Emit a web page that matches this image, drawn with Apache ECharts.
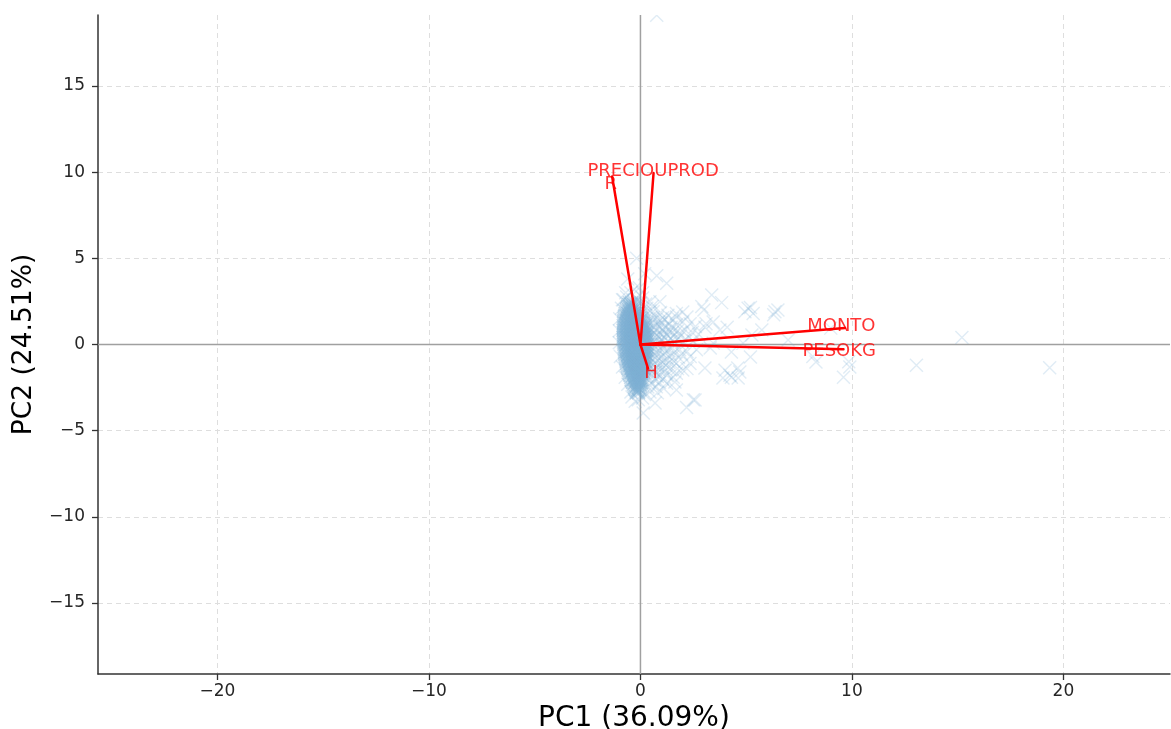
<!DOCTYPE html>
<html><head><meta charset="utf-8">
<style>html,body{margin:0;padding:0;background:#fff}#c{width:1171px;height:729px}canvas{filter:blur(.35px)}</style>
<script src="https://cdn.jsdelivr.net/npm/echarts@6/dist/echarts.min.js"></script>
</head><body><div id="c"></div>
<script>
const xTicks=[-20,-10,0,10,20];
const yTicks=[-15,-10,-5,0,5,10,15];
const xRange=[-25.65,25.04];
const yRange=[-19.12,19.12];
const loadingNames=['PRECIOUPROD','R','MONTO','PESOKG','H'];
const loadingTips=[[0.62,9.95],[-1.34,9.75],[9.67,0.96],[9.6,-0.28],[0.36,-1.4]];
const labelPositions=[[0.6,10.07],[-1.4,9.3],[9.5,1.07],[9.4,-0.37],[0.5,-1.65]];
// dense core: [y, x values]
const coreRows=[
[2.42,[-.52,-.42,-.3]],
[2.22,[-.6,-.5,-.38,-.24]],
[2.01,[-.66,-.56,-.44,-.32,-.18]],
[1.8,[-.72,-.6,-.47,-.35,-.22,-.1]],
[1.61,[-.76,-.64,-.51,-.38,-.25,-.12,0.0]],
[1.4,[-.78,-.66,-.53,-.41,-.28,-.15,-.03,.08]],
[1.22,[-.8,-.68,-.55,-.42,-.29,-.17,-.04,.08,.16]],
[1.0,[-.8,-.69,-.56,-.44,-.31,-.18,-.06,.07,.17,.25]],
[.81,[-.82,-.7,-.58,-.45,-.32,-.2,-.07,.05,.17,.28]],
[.6,[-.8,-.68,-.55,-.43,-.3,-.18,-.05,.08,.2,.31]],
[.41,[-.82,-.7,-.57,-.44,-.32,-.19,-.07,.06,.18,.3,.36]],
[.2,[-.8,-.67,-.55,-.42,-.29,-.17,-.04,.09,.21,.33]],
[.01,[-.78,-.66,-.53,-.4,-.28,-.15,-.02,.1,.22,.34]],
[-.2,[-.77,-.64,-.51,-.39,-.26,-.13,0,.12,.24,.35]],
[-.41,[-.75,-.62,-.5,-.37,-.24,-.12,.01,.13,.25,.34]],
[-.6,[-.73,-.6,-.47,-.35,-.22,-.09,.03,.15,.27,.33]],
[-.82,[-.7,-.57,-.45,-.32,-.19,-.07,.05,.17,.28]],
[-1.0,[-.67,-.54,-.42,-.29,-.16,-.04,.08,.2,.27]],
[-1.21,[-.63,-.5,-.38,-.25,-.13,0,.11,.22]],
[-1.4,[-.59,-.46,-.34,-.21,-.09,.03,.14,.2]],
[-1.61,[-.54,-.42,-.3,-.17,-.05,.06,.15]],
[-1.8,[-.49,-.37,-.25,-.13,-.01,.09]],
[-2.02,[-.43,-.32,-.2,-.08,.03,.08]],
[-2.2,[-.37,-.26,-.14,-.03,.05]],
[-2.41,[-.3,-.19,-.08,.01]],
[-2.6,[-.24,-.13,-.03]],
[-2.8,[-.19,-.09]],
[2.32,[-.56,-.44,-.33]],
[2.11,[-.62,-.5,-.37,-.24]],
[1.9,[-.68,-.53,-.4,-.26,-.14]],
[1.7,[-.74,-.58,-.44,-.3,-.16,-.04]],
[1.5,[-.77,-.6,-.46,-.33,-.2,-.07,.04]],
[1.31,[-.79,-.62,-.48,-.35,-.22,-.09,.03,.12]],
[1.1,[-.81,-.63,-.5,-.37,-.24,-.12,.01,.13,.22]],
[.91,[-.81,-.64,-.51,-.38,-.25,-.13,0,.11,.23]],
[.7,[-.81,-.62,-.49,-.36,-.24,-.11,.01,.14,.26]],
[.5,[-.81,-.63,-.5,-.38,-.25,-.13,0,.12,.24]],
[.3,[-.81,-.61,-.48,-.36,-.23,-.1,.03,.15,.27]],
[.1,[-.79,-.6,-.47,-.34,-.21,-.09,.04,.16,.28]],
[-.1,[-.77,-.58,-.45,-.32,-.2,-.07,.06,.18,.3]],
[-.31,[-.76,-.56,-.43,-.31,-.18,-.05,.07,.19,.3]],
[-.5,[-.74,-.54,-.41,-.28,-.15,-.03,.09,.21]],
[-.71,[-.71,-.51,-.38,-.26,-.13,0,.11,.23]],
[-.91,[-.68,-.48,-.35,-.23,-.1,.02,.14,.24]],
[-1.1,[-.65,-.44,-.31,-.19,-.06,.06,.17]],
[-1.3,[-.61,-.4,-.28,-.15,-.03,.09,.18]],
[-1.5,[-.56,-.36,-.24,-.11,.01,.11]],
[-1.7,[-.51,-.31,-.19,-.07,.04,.12]],
[-1.91,[-.46,-.26,-.14,-.02,.06]],
[-2.1,[-.4,-.2,-.08,.02]],
[-2.31,[-.33,-.13,-.02]],
[-2.5,[-.27,-.08]],
[-2.7,[-.2,-.11]]
];
// halo and outliers
const outerPoints=[
[19.35,-1.35],[15.2,.4],[13.05,-1.2],[9.9,-1.3],[9.6,-1.9],[9.85,-1],[8.3,-1.02],[8.15,-.7],[9,.95],[6.98,.26],
[6.36,1.9],[6.5,2],[6.3,1.72],[5.09,2.1],[5.2,2.15],[5.33,1.8],[4.94,1.9],[5.74,.84],[5.27,.55],[4.85,.08],
[5.2,-.72],[4.7,-1.6],[4.3,-1.9],[4.62,-1.95],[4.6,-1.37],[3.9,-1.95],[4,-1.5],[4.23,-1.79],[3.37,2.87],[3.84,2.43],
[3.05,1],[3.44,1.3],[3.1,1.2],[4.1,1],[3.76,.84],[3.44,.08],[3.3,-.2],[4.3,-.43],[3.05,-1.37],[2.9,2.2],
[3,2],[2.5,-3.2],[2.18,-3.65],[2.58,-3.22],[2,1.88],[2.2,1.6],[1.7,1.8],[1.7,1.6],[2.2,-1.4],[2,-1.48],
[2.34,-1.1],[1.7,-1.67],[1.7,-2.64],[1.63,-2.17],[1.24,-2.25],[.69,-3.4],[.13,-3.98],[-.25,-3.3],[.35,-2.47],[.77,3.99],
[1.24,3.55],[.92,2.48],[.45,2.48],[-.18,5],[-.6,3.8],[.2,4.1],[.77,19.1],[-.3,3.2],[-.7,3],[.1,3],
[-.85,2.6],[-.2,2.7],[.3,2.1],[.6,1.9],[.95,1.85],[1.3,1.7],[1.5,1.5],[.8,1.55],[.55,1.3],[1,1.25],
[1.35,1.2],[1.7,1.15],[2,1.3],[2.35,1.2],[2.6,1.05],[.7,1],[1.05,.9],[1.4,.85],[1.75,.8],[2.1,.85],
[2.45,.7],[2.75,.6],[.65,.7],[.95,.6],[1.25,.55],[1.55,.5],[1.9,.5],[2.3,.4],[.7,.4],[1,.3],
[1.3,.2],[1.6,.15],[2,.15],[2.5,.2],[.7,.15],[.95,.05],[1.2,-.1],[1.5,-.2],[1.85,-.3],[2.2,-.4],
[2.65,-.3],[.7,-.2],[.9,-.35],[1.15,-.5],[1.45,-.65],[1.8,-.75],[2.35,-.7],[.65,-.55],[.85,-.8],[1.1,-.95],
[1.35,-1.05],[1.7,-1.1],[.6,-.95],[.8,-1.2],[1.05,-1.35],[1.4,-1.45],[1.75,-1.4],[.55,-1.35],[.7,-1.6],[.95,-1.75],
[1.25,-1.8],[1.55,-1.9],[.5,-1.75],[.65,-2.05],[.9,-2.2],[1.1,-2.55],[.4,-2.1],[.45,-2.75],[.8,-2.8],[.2,-2.9],
[-.45,-2.75],[-.6,-2.3],[-.72,-1.9],[-.85,-1.3],[-.95,-.7],[-1,.1],[-1,.8],[-.98,1.5],[-.9,2.1],[-.8,2.6],
[-.45,3],[0,2.4],[.25,1.7],[.35,1.3],[.6,.95],[.75,.55],[.9,.2],[1.05,1.55],[1.45,1],[-.1,-3.2],
[.1,-3.1],[-.4,-3.05],[.1,-2.65],[-.65,2.75],
[.5,1.6],[.45,.85],[.5,.5],[.55,.05],[.5,-.3],[.45,-.7],[.45,-1.05],[.4,-1.4],[.35,-1.85],[.8,.8],
[1.15,.7],[1.5,.7],[1.85,.65],[.85,.45],[1.15,.4],[1.45,.35],[1.75,.3],[.8,-.05],[1.05,-.2],[1.3,-.35],
[1.6,-.45],[1.95,-.55],[.75,-.45],[1,-.7],[1.25,-.8],[1.55,-.95],[.7,-.75],[.95,-1.1],[1.2,-1.2],[.65,-1.15],
[.85,-1.45],[1.15,-1.55],[.6,-1.5],[.8,-1.85],[1.05,-2],[.55,-2.3],[.75,-2.45],[.7,1.25],[.9,1.05],[1.2,1],
[.6,1.55],[.85,1.3],[1.15,1.45],[.45,1.95],[.25,2.35],[.55,2.2],[.1,2.7],[-.05,3.3]
];
const coreData=coreRows.flatMap(r=>r[1].map(x=>[x,r[0]]));
const cross='path://M0 0L10 10M10 0L0 10';
const scatterBase={type:'scatter',symbol:cross,symbolSize:13,silent:true,clip:true};
const series=[
 {type:'line',data:[[xRange[0],0],[xRange[1],0]],showSymbol:false,silent:true,z:1,lineStyle:{color:'#a0a0a0',width:1.5}},
 {type:'line',data:[[0,yRange[0]],[0,yRange[1]]],showSymbol:false,silent:true,z:1,lineStyle:{color:'#a0a0a0',width:1.5}},
 {...scatterBase,z:2,data:outerPoints,itemStyle:{color:'none',borderColor:'#7fb0d5',borderWidth:1.4,opacity:.24}},
 {...scatterBase,z:3,data:coreData,itemStyle:{color:'none',borderColor:'#7fb0d5',borderWidth:1.6,opacity:.42}}
];
loadingTips.forEach(t=>series.push({type:'line',z:5,data:[[0,0],t],showSymbol:false,silent:true,lineStyle:{color:'#ff0000',width:2.5,cap:'round'}}));
series.push({type:'scatter',z:6,symbolSize:0,silent:true,data:labelPositions.map((p,i)=>({value:p,name:loadingNames[i]})),
 label:{show:true,position:'inside',formatter:'{b}',color:'#ff0000',fontSize:18,fontFamily:'DejaVu Sans'}});
const tickFmt=v=>String(v).replace('-','\u2212');
const axisCommon={
 nameLocation:'middle',
 axisLine:{onZero:false,lineStyle:{color:'#333',width:1.5}},
 splitLine:{show:true,lineStyle:{color:'#dedede',type:[5,4],width:1}}
};
const chart=echarts.init(document.getElementById('c'),null,{renderer:'canvas'});
chart.setOption({
 animation:false,backgroundColor:'#fff',
 grid:{left:98,top:15,width:1072,height:659,containLabel:false,outerBoundsMode:'none'},
 graphic:[{type:'rect',z:100,silent:true,shape:{x:100,y:0,width:1071,height:15},style:{fill:'#fff'}}],
 xAxis:{...axisCommon,type:'value',min:xRange[0],max:xRange[1],name:'PC1 (36.09%)',nameGap:30,
  nameTextStyle:{fontFamily:'DejaVu Sans',fontSize:28,color:'#000'},
  axisTick:{customValues:xTicks,length:6,lineStyle:{color:'#333',width:1.3}},
  axisLabel:{customValues:xTicks,formatter:tickFmt,fontFamily:'DejaVu Sans',fontSize:17,color:'#262626',margin:9}},
 yAxis:{...axisCommon,type:'value',min:yRange[0],max:yRange[1],name:'PC2 (24.51%)',nameGap:60,
  nameTextStyle:{fontFamily:'DejaVu Sans',fontSize:26.5,color:'#000'},
  axisTick:{customValues:yTicks,length:6,lineStyle:{color:'#333',width:1.3}},
  axisLabel:{customValues:yTicks,formatter:tickFmt,fontFamily:'DejaVu Sans',fontSize:17,color:'#262626',margin:13}},
 series
});
</script></body></html>
